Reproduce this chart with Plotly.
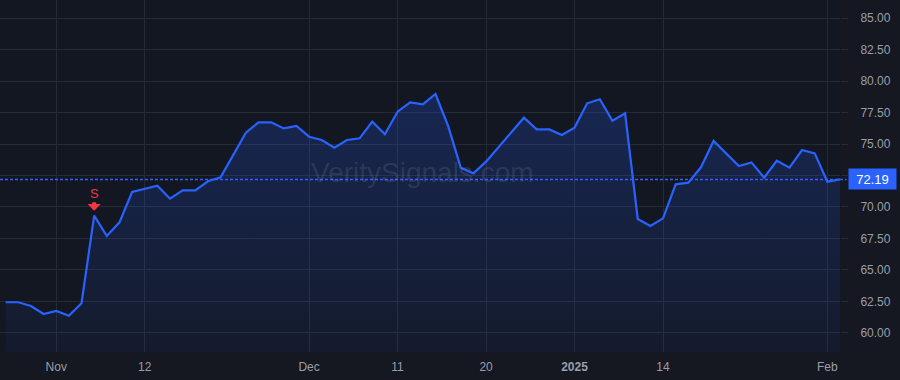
import plotly.graph_objects as go

dates = [
    "2024-10-28", "2024-10-29", "2024-10-30", "2024-10-31",
    "2024-11-01", "2024-11-04", "2024-11-05", "2024-11-06", "2024-11-07", "2024-11-08",
    "2024-11-11", "2024-11-12", "2024-11-13", "2024-11-14", "2024-11-15",
    "2024-11-18", "2024-11-19", "2024-11-20", "2024-11-21", "2024-11-22",
    "2024-11-25", "2024-11-26", "2024-11-27", "2024-11-29",
    "2024-12-02", "2024-12-03", "2024-12-04", "2024-12-05", "2024-12-06",
    "2024-12-09", "2024-12-10", "2024-12-11", "2024-12-12", "2024-12-13",
    "2024-12-16", "2024-12-17", "2024-12-18", "2024-12-19", "2024-12-20",
    "2024-12-23", "2024-12-24", "2024-12-26", "2024-12-27", "2024-12-30", "2024-12-31",
    "2025-01-02", "2025-01-03", "2025-01-06", "2025-01-07", "2025-01-08", "2025-01-10",
    "2025-01-13", "2025-01-14", "2025-01-15", "2025-01-16", "2025-01-17",
    "2025-01-21", "2025-01-22", "2025-01-23", "2025-01-24",
    "2025-01-27", "2025-01-28", "2025-01-29", "2025-01-30", "2025-01-31",
    "2025-02-03", "2025-02-04",
]

prices = [
    62.44, 62.44, 62.14, 61.51, 61.75, 61.37, 62.36, 69.31, 67.70, 68.78,
    71.19, 71.43, 71.69, 70.66, 71.32, 71.32, 72.04, 72.35, 74.13, 75.90,
    76.72, 76.72, 76.24, 76.43, 75.58, 75.32, 74.71, 75.32, 75.45, 76.77,
    75.77, 77.57, 78.31, 78.15, 78.97, 76.43, 73.12, 72.67, 73.60, 74.79,
    75.90, 77.09, 76.16, 76.16, 75.71, 76.30, 78.23, 78.55, 76.85, 77.43,
    69.05, 68.49, 69.10, 71.80, 71.93, 73.15, 75.24, 74.26, 73.25, 73.54,
    72.33, 73.67, 73.12, 74.52, 74.26, 72.01, 72.19,
]

x_tick_vals = ["2024-11-01", "2024-11-12", "2024-12-02", "2024-12-11",
               "2024-12-20", "2025-01-02", "2025-01-14", "2025-02-03"]
x_tick_text = ["Nov", "12", "Dec", "11", "20", "<b>2025</b>", "14", "Feb"]

y_tick_vals = [60, 62.5, 65, 67.5, 70, 72.5, 75, 77.5, 80, 82.5, 85]
y_tick_text = ["60.00", "62.50", "65.00", "67.50", "70.00", "72.50",
               "75.00", "77.50", "80.00", "82.50", "85.00"]

signal_date = "2024-11-06"
signal_label = "S"
watermark = "VeritySignals.com"

LINE = "#2962ff"
BG = "#131722"
PAPER = "#151821"
GRID = "#262a37"
TXT = "#9a9ea8"
RED = "#f23645"

fig = go.Figure()
fig.add_trace(go.Scatter(
    x=dates, y=prices, mode="lines",
    line=dict(color=LINE, width=2.2),
    fill="tozeroy",
    fillgradient=dict(type="vertical", start=58.5, stop=79,
                      colorscale=[[0, "rgba(41,98,255,0.05)"],
                                  [1, "rgba(41,98,255,0.22)"]]),
    hoverinfo="skip", showlegend=False,
))

last = prices[-1]
fig.add_shape(type="line", xref="paper", x0=0, x1=1.008, yref="y",
              y0=last, y1=last, line=dict(color=LINE, width=1.5, dash="3px,2px"),
              layer="above")

sig_y = prices[dates.index(signal_date)]
# arrow
fig.add_annotation(x=signal_date, y=sig_y, text="", showarrow=True,
                   ax=0, ay=-15, arrowhead=1, arrowsize=0.55, arrowwidth=4,
                   arrowcolor=RED, standoff=5)
# label
fig.add_annotation(x=signal_date, y=sig_y, text=signal_label, showarrow=False,
                   yshift=22.5, yanchor="middle",
                   font=dict(color=RED, size=13, family="Liberation Sans"))

fig.add_annotation(xref="paper", yref="paper", x=0.503, y=0.51,
                   text=watermark, showarrow=False,
                   font=dict(size=28, color="rgba(160,165,180,0.16)", family="Liberation Sans"))

fig.add_annotation(xref="paper", x=1, xanchor="left", xshift=8, yref="y", y=last,
                   text=f"{last:.2f}", showarrow=False, bgcolor=LINE,
                   width=45, height=18, align="center",
                   font=dict(color="white", size=13, family="Liberation Sans"))

fig.update_layout(
    width=900, height=380,
    margin=dict(l=0, r=60, t=0, b=28),
    paper_bgcolor=PAPER, plot_bgcolor=BG,
    font=dict(family="Liberation Sans", size=12, color=TXT),
    xaxis=dict(type="category", range=[-0.45, len(dates) - 1],
               tickmode="array", tickvals=x_tick_vals, ticktext=x_tick_text,
               showgrid=True, gridcolor=GRID, gridwidth=1,
               ticks="", ticklabelstandoff=6, zeroline=False, showline=False,
               tickfont=dict(size=12, color=TXT)),
    yaxis=dict(side="right", range=[58.49, 86.43],
               tickmode="array", tickvals=y_tick_vals, ticktext=y_tick_text,
               showgrid=True, gridcolor=GRID, gridwidth=1,
               ticks="outside", ticklen=7, tickcolor=GRID, ticklabelstandoff=10,
               zeroline=False, showline=False,
               tickfont=dict(size=12, color=TXT)),
)

fig.write_html("out.html")
